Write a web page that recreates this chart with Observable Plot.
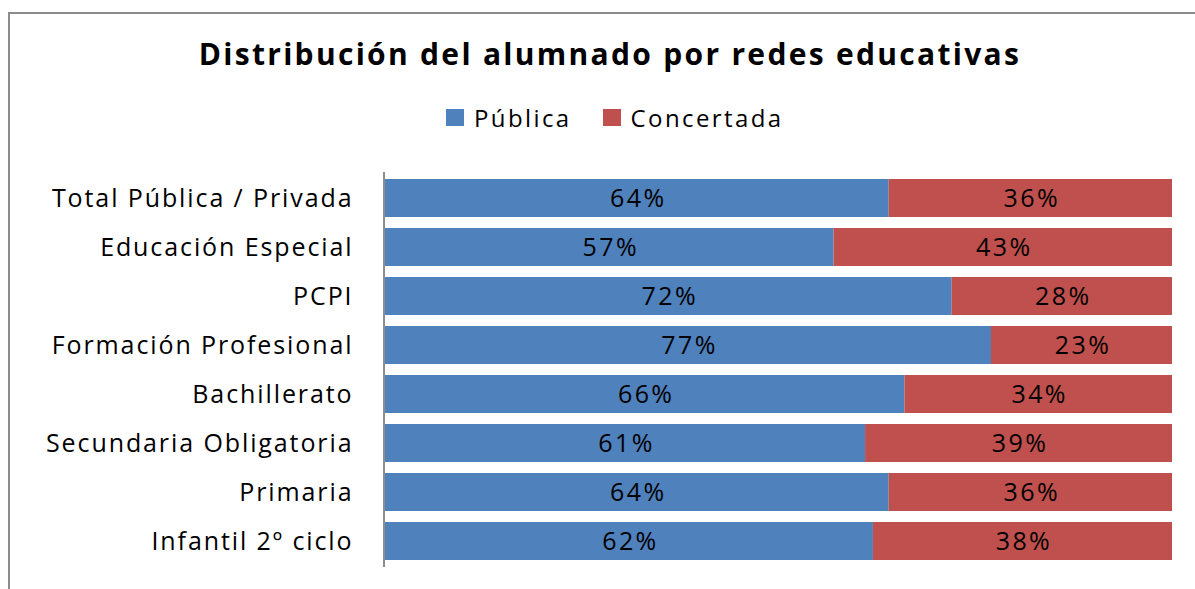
<!DOCTYPE html>
<html>
<head>
<meta charset="utf-8">
<script src="https://cdn.jsdelivr.net/npm/d3@7"></script>
<script src="https://cdn.jsdelivr.net/npm/@observablehq/plot@0.6"></script>
<style>
  html, body { margin: 0; padding: 0; background: #fff; }
  #wrap { position: relative; width: 1195px; height: 589px; overflow: hidden; font-family: "Open Sans", sans-serif; }
  #border { position: absolute; left: 8px; top: 12px; width: 1300px; height: 700px; border: 2px solid #8c8c8c; box-sizing: border-box; }
  #title { position: absolute; left: 0; width: 1220px; top: 33px; text-align: center; font-size: 30px; font-weight: bold; letter-spacing: 2.3px; color: #000; }
  #legend { position: absolute; left: 446px; top: 101px; font-size: 24px; letter-spacing: 2.4px; color: #000; display: flex; align-items: center; }
  .sw { display: inline-block; width: 18px; height: 17px; margin-right: 10px; }
  .item { display: flex; align-items: center; margin-right: 31px; }
  #chart { position: absolute; left: 0; top: 0; }
</style>
</head>
<body>
<div id="wrap">
  <div id="border"></div>
  <div id="chart"></div>
  <div id="title">Distribución del alumnado por redes educativas</div>
  <div id="legend"></div>
</div>
<script>
const categories = ["Total Pública / Privada", "Educación Especial", "PCPI", "Formación Profesional", "Bachillerato", "Secundaria Obligatoria", "Primaria", "Infantil 2º ciclo"];
const seriesNames = ["Pública", "Concertada"];
const publica = [64, 57, 72, 77, 66, 61, 64, 62];
const concertada = [36, 43, 28, 23, 34, 39, 36, 38];
const colors = ["#4F81BD", "#C0504D"];

const data = [];
categories.forEach((c, i) => {
  data.push({cat: c, series: seriesNames[0], value: publica[i]});
  data.push({cat: c, series: seriesNames[1], value: concertada[i]});
});

const legend = document.getElementById("legend");
seriesNames.forEach((s, i) => {
  const it = document.createElement("div");
  it.className = "item";
  it.innerHTML = `<span class="sw" style="background:${colors[i]}"></span><span>${s}</span>`;
  legend.appendChild(it);
});

const chart = Plot.plot({
  width: 1195,
  height: 589,
  marginLeft: 385,
  marginRight: 23,
  marginTop: 172,
  marginBottom: 22,
  style: {fontFamily: "Open Sans, sans-serif", fontSize: "25px", color: "#000", background: "transparent"},
  x: {domain: [0, 100], axis: null},
  y: {domain: categories, paddingInner: 0.23, paddingOuter: 0.115, label: null},
  color: {domain: seriesNames, range: colors},
  marks: [
    Plot.barX(data, Plot.stackX({x: "value", y: "cat", fill: "series", order: null})),
    Plot.text(data, Plot.stackX({x: "value", y: "cat", z: "series", order: null, text: d => d.value + "%", fill: "#000", fontSize: 25, dx: 1})),
    Plot.ruleX([0], {stroke: "#8c8c8c", strokeWidth: 2, dx: -1.5}),
    Plot.axisY({tickSize: 0, tickPadding: 32, label: null, fontSize: 25})
  ]
});
d3.select(chart).selectAll('g[aria-label="y-axis tick label"] text').attr("letter-spacing", 1.9);
d3.select(chart).selectAll('g[aria-label="text"] text').attr("letter-spacing", 2.4);
document.getElementById("chart").appendChild(chart);
</script>
</body>
</html>
